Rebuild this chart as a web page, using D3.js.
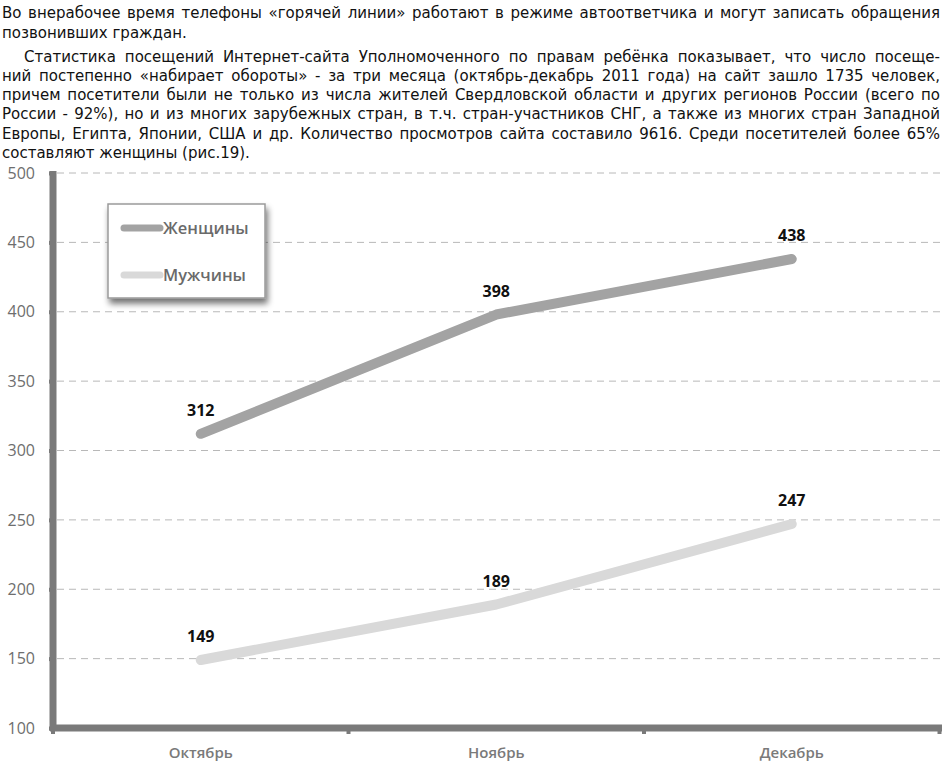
<!DOCTYPE html>
<html><head><meta charset="utf-8">
<script src="https://cdn.jsdelivr.net/npm/d3@7"></script>
<style>
html,body{margin:0;padding:0;background:#fff;}
svg{display:block;}
</style></head>
<body>
<script>
// ---- data ----
const months = ["Октябрь", "Ноябрь", "Декабрь"];
const women = [312, 398, 438];
const men = [149, 189, 247];
const seriesNames = ["Женщины", "Мужчины"];
const yTicks = [100, 150, 200, 250, 300, 350, 400, 450, 500];
const paragraphLines = [
  {t: "Во внерабочее время телефоны «горячей линии» работают в режиме автоответчика и могут записать обращения", j: true, indent: 0},
  {t: "позвонивших граждан.", j: false, indent: 0},
  {t: "Статистика посещений Интернет-сайта Уполномоченного по правам ребёнка показывает, что число посеще-", j: true, indent: 22},
  {t: "ний постепенно «набирает обороты» - за три месяца (октябрь-декабрь 2011 года) на сайт зашло 1735 человек,", j: true, indent: 0},
  {t: "причем посетители были не только из числа жителей Свердловской области и других регионов России (всего по", j: true, indent: 0},
  {t: "России - 92%), но и из многих зарубежных стран, в т.ч. стран-участников СНГ, а также из многих стран Западной", j: true, indent: 0},
  {t: "Европы, Египта, Японии, США и др. Количество просмотров сайта составило 9616. Среди посетителей более 65%", j: true, indent: 0},
  {t: "составляют женщины (рис.19).", j: false, indent: 0}
];
const lineCenters = [12, 32, 56, 75, 94, 113, 133, 152];

const W = 942, H = 763;
const svg = d3.select("body").append("svg").attr("width", W).attr("height", H);

// paragraph text (justified by word spacing)
const txt = svg.append("g").attr("font-family", "'DejaVu Sans', sans-serif").attr("font-size", 15).attr("fill", "#111");
paragraphLines.forEach((l, i) => {
  const t = txt.append("text").attr("x", 2 + l.indent).attr("y", lineCenters[i] + 5.5).text(l.t);
  if (l.j) {
    const target = 938 - l.indent;
    const nat = t.node().getComputedTextLength();
    const gaps = (l.t.match(/ /g) || []).length;
    if (nat < target && gaps > 0) t.attr("word-spacing", (target - nat) / gaps);
    else t.attr("textLength", target).attr("lengthAdjust", "spacing");
  }
});

// chart geometry
const x0 = 53, x1 = 939.5, yTop = 173, yBot = 728;
const x = d3.scaleBand().domain(months).range([x0, x1]);
const y = d3.scaleLinear().domain([100, 500]).range([yBot, yTop]);

const defs = svg.append("defs");
const f = defs.append("filter").attr("id", "sh").attr("x", "-20%").attr("y", "-20%").attr("width", "150%").attr("height", "160%");
f.append("feGaussianBlur").attr("in", "SourceAlpha").attr("stdDeviation", 3);
f.append("feOffset").attr("dx", 2).attr("dy", 5).attr("result", "b");
f.append("feComponentTransfer").append("feFuncA").attr("type", "linear").attr("slope", 0.55);
const fm = f.append("feMerge"); fm.append("feMergeNode"); fm.append("feMergeNode").attr("in", "SourceGraphic");

// gridlines
svg.append("g").selectAll("line").data(yTicks.filter(d => d > 100)).join("line")
  .attr("x1", x0 + 4).attr("x2", W).attr("y1", d => y(d)).attr("y2", d => y(d))
  .attr("stroke", "#b8b8b8").attr("stroke-width", 1).attr("stroke-dasharray", "7,5");

// y axis
const yAxis = d3.axisLeft(y).tickValues(yTicks).tickSize(4).tickPadding(14);
const ga = svg.append("g").attr("transform", `translate(${x0},0)`).call(yAxis);
ga.select(".domain").remove();
ga.selectAll(".tick line").attr("stroke", "#7a7a7a").attr("stroke-width", 4);
ga.selectAll(".tick text").attr("font-family", "'Open Sans', sans-serif").attr("font-size", 16).attr("fill", "#6e6e6e");
svg.append("line").attr("x1", x0).attr("x2", x0).attr("y1", yTop - 2).attr("y2", yBot + 3)
  .attr("stroke", "#7a7a7a").attr("stroke-width", 7);

// x axis
const xAxis = d3.axisBottom(x).tickSize(0).tickPadding(0);
const gx = svg.append("g").attr("transform", `translate(0,${yBot})`).call(xAxis);
gx.select(".domain").remove();
gx.selectAll(".tick text").attr("font-family", "'Open Sans', sans-serif").attr("font-size", 15).attr("font-weight", 600)
  .attr("fill", "#7a7a7a").attr("dy", 0).attr("y", 30);
svg.append("line").attr("x1", x0 - 3).attr("x2", W).attr("y1", yBot).attr("y2", yBot)
  .attr("stroke", "#7a7a7a").attr("stroke-width", 7);
// category boundary ticks
const bounds = months.map(m => x(m)).concat([x1]);
svg.append("g").selectAll("line").data(bounds).join("line")
  .attr("x1", d => d).attr("x2", d => d).attr("y1", yBot).attr("y2", yBot + 6)
  .attr("stroke", "#7a7a7a").attr("stroke-width", 4);

// lines
const cx = m => x(m) + x.bandwidth() / 2;
const line = d3.line().x((d, i) => cx(months[i])).y(d => y(d));
const series = [{name: seriesNames[0], vals: women, color: "#a3a3a3"}, {name: seriesNames[1], vals: men, color: "#d9d9d9"}];
series.forEach(s => {
  svg.append("path").datum(s.vals).attr("d", line).attr("fill", "none").attr("stroke", s.color)
    .attr("stroke-width", 10).attr("stroke-linecap", "round").attr("stroke-linejoin", "round");
  svg.append("g").selectAll("text").data(s.vals).join("text")
    .attr("x", (d, i) => cx(months[i])).attr("y", d => y(d) - 18)
    .attr("text-anchor", "middle").attr("font-family", "'Open Sans', sans-serif").attr("font-size", 16).attr("font-weight", 700)
    .attr("fill", "#111").text(d => d);
});

// legend
const lg = svg.append("g");
lg.append("rect").attr("x", 108).attr("y", 204).attr("width", 157).attr("height", 94)
  .attr("fill", "#fff").attr("stroke", "#9a9a9a").attr("stroke-width", 1.5).attr("filter", "url(#sh)");
series.forEach((s, i) => {
  const ly = 228 + i * 47;
  lg.append("line").attr("x1", 124).attr("x2", 160).attr("y1", ly).attr("y2", ly)
    .attr("stroke", s.color).attr("stroke-width", 7).attr("stroke-linecap", "round");
  lg.append("text").attr("x", 163).attr("y", ly + 6).attr("font-family", "'Open Sans', sans-serif").attr("font-size", 16.5)
    .attr("font-weight", 600).attr("fill", "#6a6a6a").text(s.name);
});
</script>
</body></html>
